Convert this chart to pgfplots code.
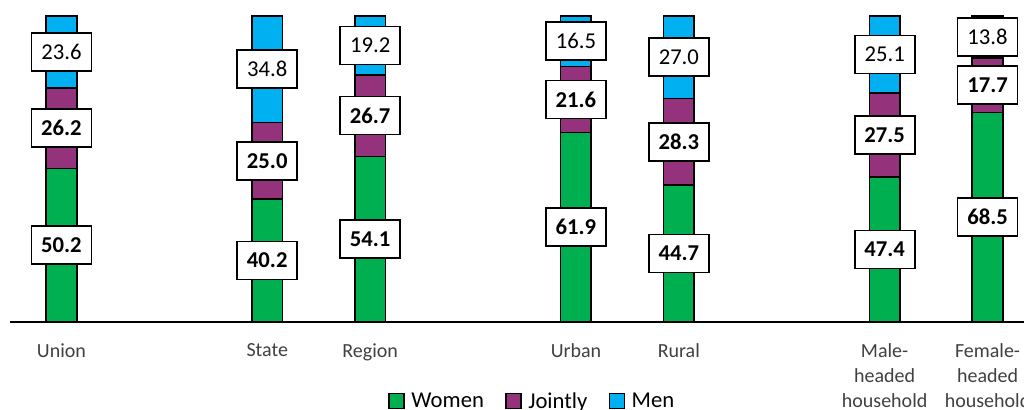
\documentclass[border=0pt]{standalone}
\usepackage{fontspec}
\setmainfont{Carlito}
\usepackage{pgfplots}
\usepackage{pgfplotstable}
\pgfplotsset{compat=1.18}

\definecolor{cwomen}{HTML}{00B050}
\definecolor{cjoint}{RGB}{148,50,124}
\definecolor{cmen}{HTML}{00B0F0}
\definecolor{labgray}{HTML}{404040}

% shares (%) of decision making
\pgfplotstableread{
x w j m
0 50.2 26.2 23.6
2 40.2 25.0 34.8
3 54.1 26.7 19.2
5 61.9 21.6 16.5
6 44.7 28.3 27.0
8 47.4 27.5 25.1
9 68.5 17.7 13.8
}\datatable

\begin{document}
\begin{tikzpicture}
% page = 1024x410 px, 1px = 0.75pt; plot area SW at (10px,322px)
\useasboundingbox (-7.5pt,-66pt) rectangle (760.5pt,241.5pt);
\begin{axis}[
  at={(0,0)}, anchor=south west,
  scale only axis, width=771.75pt, height=229.5pt,
  xmin=-0.5, xmax=9.5, ymin=0, ymax=100,
  clip=false,
  ybar stacked, bar width=23pt,
  axis x line*=bottom, hide y axis,
  axis line style={line width=2pt, -},
  xtick=data, major tick length=0pt,
  xticklabels={Union, State, Region, Urban, Rural,
    {Male-\\headed\\household}, {Female-\\headed\\household}},
  xticklabel style={align=center, anchor=north, yshift=-12.5pt,
    text=labgray, font=\fontsize{15}{18.75}\selectfont},
  every axis plot/.append style={draw=black, line width=1.2pt},
  point meta=explicit symbolic,
  every node near coord/.append style={anchor=center, fill=white, draw=black,
    line width=1.3pt, inner sep=1pt, minimum width=45pt, minimum height=28.5pt,
    text=black, font=\fontsize{17}{20}\selectfont},
  legend columns=3,
  legend style={at={(0.508,-0.259)}, anchor=center, draw=none, fill=none,
    font=\fontsize{17}{20}\selectfont,
    /tikz/every odd column/.append style={column sep=3pt},
    /tikz/every even column/.append style={column sep=14pt}},
  legend image code/.code={\draw[#1, line width=1pt] (0pt,-5.6pt) rectangle (11.25pt,5.6pt);},
]
\addplot[fill=cwomen, nodes near coords={\textbf{\pgfplotspointmeta}}]
  table[x=x, y=w, meta=w] {\datatable};
\addlegendentry{Women}
\addplot[fill=cjoint, nodes near coords={\textbf{\pgfplotspointmeta}}]
  table[x=x, y=j, meta=j] {\datatable};
\addlegendentry{Jointly}
\addplot[fill=cmen, nodes near coords={\pgfplotspointmeta}]
  table[x=x, y=m, meta=m] {\datatable};
\addlegendentry{Men}
\end{axis}
\end{tikzpicture}
\end{document}
